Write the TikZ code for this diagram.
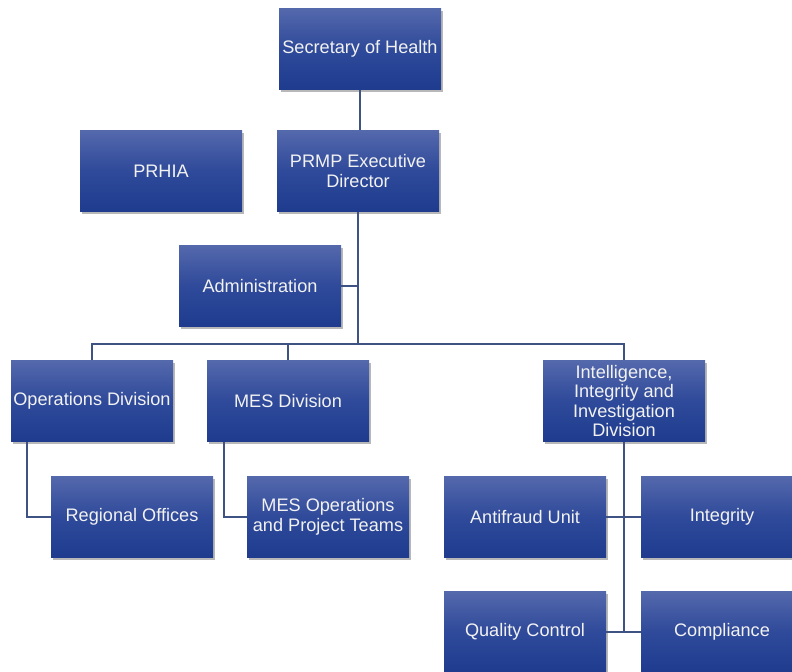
\documentclass[tikz,border=0pt]{standalone}
\usepackage{fontspec}
\setmainfont{Liberation Sans}
\usetikzlibrary{shadows}
\definecolor{boxtop}{HTML}{5468AC}
\definecolor{boxmid}{HTML}{2F4A9A}
\definecolor{boxbot}{HTML}{1E3B8E}
\definecolor{linkcol}{HTML}{3E5284}
\definecolor{txtcol}{HTML}{F2F2F2}
\begin{document}
\begin{tikzpicture}[x=0.75pt,y=-0.75pt]
\useasboundingbox (0,0) rectangle (792,671);
\tikzstyle{every node}=[draw=none,shape=rectangle,minimum width=121.5pt,minimum height=60.75pt,inner sep=0pt,
  top color=boxtop,bottom color=boxbot,middle color=boxmid,text=txtcol,align=center,
  font=\fontsize{13.6}{14.6}\selectfont,
  drop shadow={shadow xshift=1.6pt,shadow yshift=-2.2pt,fill=black,opacity=.28}];
\tikzstyle{link}=[draw=linkcol,line width=1.5pt];
\node (sec) at (360,49) {Secretary of Health};
\node (prmp) at (358,171) {PRMP Executive\\Director};
\node (prhia) at (161,171) {PRHIA};
\node (adm) at (260,286) {Administration};
\node (ops) at (92,401) {Operations Division};
\node (mes) at (288,401) {MES Division};
\node (iii) at (624,401) {Intelligence,\\Integrity and\\Investigation\\Division};
\node (reg) at (132,517) {Regional Offices};
\node (mesop) at (328,517) {MES Operations\\and Project Teams};
\node (anti) at (525,517) {Antifraud Unit};
\node (integ) at (722,517) {Integrity};
\node (qc) at (525,632) {Quality Control};
\node (comp) at (722,632) {Compliance};
\coordinate (j) at (358,344);
\coordinate (o1) at (27,442);
\coordinate (m1) at (224,442);
\draw[link] (sec.south) -- (sec.south |- prmp.north)
(prmp.south) -- (j)
(adm.east) -- (adm.east -| j)
(ops.north) |- (j) -| (iii.north)
(mes.north) -- (mes.north |- j)
(o1) |- (reg.west)
(m1) |- (mesop.west)
(iii.south) -- (iii.south |- qc.east)
(anti.east) -- (integ.west)
(qc.east) -- (comp.west);
\end{tikzpicture}
\end{document}
